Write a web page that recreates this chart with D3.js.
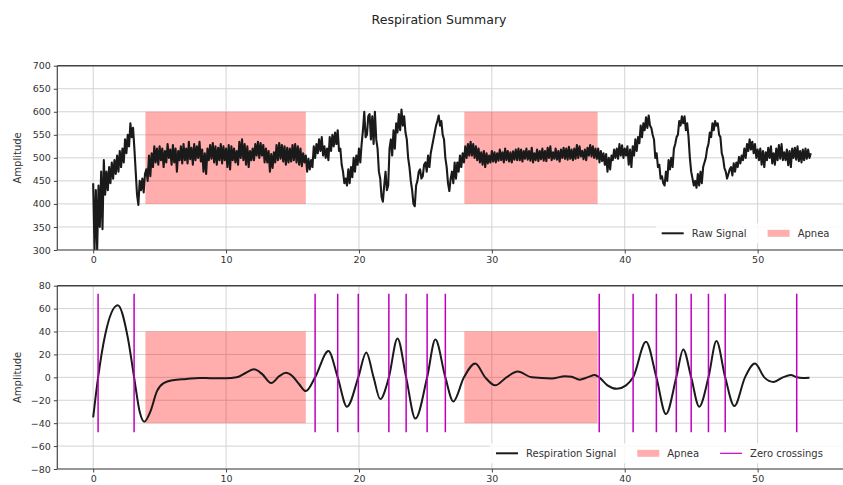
<!DOCTYPE html>
<html>
<head>
<meta charset="utf-8">
<script src="https://cdn.jsdelivr.net/npm/d3@7"></script>
<style>
    body { margin: 0; background: #fff; }
    text { font-family: 'DejaVu Sans', sans-serif; fill: #333; }
</style>
</head>
<body>
<svg id="chart"></svg>
<script>
// raw signal, sampled every 0.1 s from t = 0 (one row per second)
const rawStart = 0;
const rawStep = 0.1;
const rawValues = [
    445, 300, 430, 300, 440, 350, 470, 345, 495, 420,
    470, 430, 480, 445, 490, 455, 495, 465, 505, 470,
    515, 480, 520, 490, 540, 510, 550, 525, 575, 545,
    565, 520, 470, 420, 398, 450, 430, 455, 425, 465,
    475, 450, 505, 460, 510, 480, 525, 490, 520, 485,
    525, 495, 520, 480, 515, 490, 530, 500, 518, 485,
    528, 490, 520, 470, 515, 495, 525, 488, 530, 495,
    520, 488, 535, 497, 522, 485, 530, 495, 525, 500,
    535, 492, 518, 470, 510, 465, 520, 495, 528, 498,
    532, 490, 525, 485, 522, 495, 530, 488, 525, 495,
    520, 480, 528, 475, 525, 495, 520, 490, 515, 485,
    535, 500, 540, 495, 530, 485, 525, 480, 515, 495,
    520, 495, 530, 505, 535, 500, 532, 505, 528, 490,
    520, 490, 515, 470, 508, 478, 512, 490, 528, 495,
    532, 498, 528, 492, 525, 485, 522, 490, 520, 492,
    528, 495, 530, 490, 525, 485, 520, 482, 510, 490,
    505, 470, 498, 475, 495, 480, 525, 500, 530, 510,
    540, 515, 545, 505, 525, 500, 520, 495, 545, 515,
    550, 525, 555, 530, 560, 515, 520, 485, 470, 445,
    455, 440, 475, 445, 480, 458, 500, 470, 505, 485,
    520, 490, 530, 560, 600, 545, 550, 590, 595, 540,
    590, 530, 600, 540, 520, 470, 455, 415, 405, 440,
    470, 430, 440, 520, 540, 505, 560, 520, 575, 555,
    595, 560, 605, 570, 590, 555, 540, 500, 480, 450,
    430, 400, 395, 440, 450, 470, 475, 455, 460, 485,
    490, 470, 505, 480, 510, 525, 540, 555, 570, 580,
    592, 570, 580, 550, 540, 500, 480, 445, 428, 455,
    470, 445, 490, 455, 490, 470, 505, 480, 510, 490,
    525, 500, 530, 505, 535, 505, 530, 500, 525, 495,
    520, 490, 512, 485, 515, 480, 510, 488, 505, 490,
    515, 492, 512, 490, 510, 494, 518, 495, 512, 490,
    520, 495, 515, 492, 512, 490, 514, 496, 518, 495,
    520, 495, 518, 492, 515, 498, 520, 496, 515, 494,
    522, 490, 510, 495, 518, 493, 515, 497, 520, 494,
    515, 493, 522, 500, 525, 495, 512, 498, 520, 496,
    515, 492, 518, 500, 522, 498, 520, 496, 524, 498,
    518, 495, 520, 498, 528, 500, 525, 503, 515, 497,
    518, 495, 522, 505, 528, 503, 525, 500, 520, 498,
    520, 490, 515, 493, 510, 485, 508, 470, 500, 475,
    505, 495, 518, 500, 520, 498, 530, 505, 527, 500,
    520, 505, 525, 485, 518, 480, 525, 505, 540, 515,
    545, 532, 570, 545, 575, 560, 588, 565, 592, 570,
    565, 550, 540, 500, 510, 480, 485, 455, 460, 445,
    440, 470, 450, 495, 475, 500, 480, 520, 530, 545,
    550, 580, 570, 590, 575, 590, 560, 575, 545, 500,
    470, 455, 440, 450, 435, 465, 440, 470, 445, 480,
    490, 500, 520, 530, 555, 545, 575, 560, 580, 570,
    575, 550, 545, 510, 500, 478, 470, 455, 465, 475,
    480, 462, 488, 470, 490, 480, 502, 488, 505, 495,
    520, 500, 530, 515, 540, 518, 535, 510, 530, 500,
    518, 495, 520, 485, 515, 480, 512, 495, 522, 500,
    525, 488, 510, 485, 520, 495, 528, 498, 530, 495,
    512, 495, 518, 484, 515, 480, 520, 500, 522, 496,
    525, 493, 515, 490, 518, 495, 520, 498, 518, 500,
    510
];

// filtered respiration signal (key points: peaks, troughs, crossings)
const respTimes = [
    0, 0.37, 0.9, 1.85, 2.6, 3.08, 3.5, 3.85, 4.3, 4.8, 5.3, 6, 7, 8, 9, 10,
    10.8, 11.5, 12.1, 12.7, 13.4, 14.0, 14.5, 15.0, 15.5, 16.0, 16.7, 17.7,
    18.4, 19.1, 19.95, 20.55, 21.1, 21.6, 22.25, 22.9, 23.55, 24.25, 25.13,
    25.75, 26.5, 27.1, 27.9, 28.75, 29.5, 30.25, 31.1, 31.95, 33, 34.5, 35.5,
    36.0, 36.6, 37.2, 37.75, 38.08, 38.7, 39.4, 40.1, 40.63, 41.6, 42.38,
    43.1, 43.88, 44.4, 45.0, 45.6, 46.3, 46.9, 47.56, 48.25, 49.05, 49.8,
    50.5, 51.2, 51.9, 52.5, 52.94, 53.4, 53.9
];
const respValues = [
    -35, 0, 37, 63, 35, 0, -30, -38.7, -30, -12, -5, -2.5, -1.5, -0.5, -0.8, -0.8,
    0, 4, 7, 3, -5, 1, 4, 1, -6, -12, 0, 23,
    0, -25.6, 0, 21.6, 0, -19, 0, 34, 0, -36, 0,
    33, 0, -21, 0, 12, 0, -7, 0, 5, 0, -1, 1,
    0.5, -2, 0, 2, 0, -7, -10, -7, 0, 31, 0,
    -32, 0, 24.4, 0, -25.6, 0, 31.7, 0, -25, 0, 12,
    0, -4, 0, 2, 0, -0.5, -0.3
];

const apneaStart = [3.93, 27.93];
const apneaEnd = [16.0, 37.96];

const zeroCrossings = [
    0.37, 3.08, 16.7, 18.4, 19.95, 22.25, 23.55, 25.13, 26.5,
    38.08, 40.63, 42.38, 43.88, 45.0, 46.3, 47.56, 52.94
];

const xTicks = [0, 10, 20, 30, 40, 50];
const rawTicks = [300, 350, 400, 450, 500, 550, 600, 650, 700];
const respTicks = [-80, -60, -40, -20, 0, 20, 40, 60, 80];

const width = 843;
const height = 485;
const apneaColor = '#ff0000';
const apneaOpacity = 0.32;

const svg = d3.select('#chart')
    .attr('width', width)
    .attr('height', height)
    .style('background-color', 'white');

const x = d3.scaleLinear().domain([-2.7, 56.8]).range([57.3, 848]);

svg.append('text')
    .attr('x', 439)
    .attr('y', 24)
    .attr('text-anchor', 'middle')
    .style('font-size', '12.5px')
    .style('fill', '#222')
    .text('Respiration Summary');

function drawPanel(id, top, bottom, yDomain, yTicks, band) {
    const y = d3.scaleLinear().domain(yDomain).range([bottom, top]);
    const g = svg.append('g');

    svg.append('clipPath')
        .attr('id', id)
        .append('rect')
        .attr('x', x.range()[0])
        .attr('y', top)
        .attr('width', x.range()[1] - x.range()[0])
        .attr('height', bottom - top);

    // grid
    g.append('g')
        .selectAll('line')
        .data(yTicks)
        .join('line')
        .attr('x1', x.range()[0])
        .attr('x2', x.range()[1])
        .attr('y1', d => y(d))
        .attr('y2', d => y(d))
        .attr('stroke', '#d3d3d3');
    g.append('g')
        .selectAll('line')
        .data(xTicks)
        .join('line')
        .attr('x1', d => x(d))
        .attr('x2', d => x(d))
        .attr('y1', top)
        .attr('y2', bottom)
        .attr('stroke', '#d3d3d3');

    const plot = g.append('g').attr('clip-path', `url(#${id})`);

    // apnea spans
    plot.selectAll('rect.apnea')
        .data(d3.range(apneaStart.length))
        .join('rect')
        .attr('class', 'apnea')
        .attr('x', i => x(apneaStart[i]))
        .attr('width', i => x(apneaEnd[i]) - x(apneaStart[i]))
        .attr('y', y(band[1]))
        .attr('height', y(band[0]) - y(band[1]))
        .attr('fill', apneaColor)
        .attr('fill-opacity', apneaOpacity);

    return { g, plot, y, top, bottom, yTicks };
}

function drawAxes(p) {
    const { g, y, top, bottom, yTicks } = p;
    const xAxis = g.append('g')
        .attr('transform', `translate(0,${bottom})`)
        .call(d3.axisBottom(x).tickValues(xTicks).tickSize(3.5).tickPadding(3));
    const yAxis = g.append('g')
        .attr('transform', `translate(${x.range()[0]},0)`)
        .call(d3.axisLeft(y).tickValues(yTicks).tickSize(3.5).tickPadding(3));
    [xAxis, yAxis].forEach(a => {
        a.select('.domain').remove();
        a.selectAll('.tick line').attr('stroke', '#444');
        a.selectAll('.tick text')
            .style('font-size', '9.5px')
            .style('font-family', "'DejaVu Sans', sans-serif")
            .attr('fill', '#333');
    });
    // spines
    g.append('line')
        .attr('x1', x.range()[0]).attr('x2', x.range()[1])
        .attr('y1', top).attr('y2', top)
        .attr('stroke', '#444').attr('stroke-width', 1.5);
    g.append('line')
        .attr('x1', x.range()[0]).attr('x2', x.range()[1])
        .attr('y1', bottom).attr('y2', bottom)
        .attr('stroke', '#444').attr('stroke-width', 1.2);
    g.append('line')
        .attr('x1', x.range()[0]).attr('x2', x.range()[0])
        .attr('y1', top).attr('y2', bottom)
        .attr('stroke', '#444').attr('stroke-width', 1.2);
    g.append('text')
        .attr('transform', `translate(21,${(top + bottom) / 2}) rotate(-90)`)
        .attr('text-anchor', 'middle')
        .style('font-size', '10px')
        .text('Amplitude');
}

function drawLegend(g, startX, cy, items) {
    g.append('rect')
        .attr('x', startX - 6)
        .attr('y', cy - 10)
        .attr('width', width - startX + 10)
        .attr('height', 20)
        .attr('fill', 'white')
        .attr('fill-opacity', 0.85);
    let cx = startX;
    items.forEach(it => {
        if (it.type === 'line') {
            g.append('line')
                .attr('x1', cx).attr('x2', cx + 22)
                .attr('y1', cy).attr('y2', cy)
                .attr('stroke', it.color)
                .attr('stroke-width', it.width);
        } else {
            g.append('rect')
                .attr('x', cx).attr('y', cy - 3.5)
                .attr('width', 22).attr('height', 7)
                .attr('fill', it.color)
                .attr('fill-opacity', apneaOpacity);
        }
        const t = g.append('text')
            .attr('x', cx + 30)
            .attr('y', cy)
            .attr('dy', '0.35em')
            .style('font-size', '10px')
            .text(it.label);
        cx += 30 + t.node().getComputedTextLength() + 21;
    });
}

// ---- top panel: raw signal
const topP = drawPanel('clip-raw', 65.7, 250, [300, 700], rawTicks, [400, 600]);
topP.plot.append('path')
    .datum(rawValues)
    .attr('fill', 'none')
    .attr('stroke', '#1a1a1a')
    .attr('stroke-width', 2.1)
    .attr('stroke-linejoin', 'round')
    .attr('d', d3.line()
        .x((d, i) => x(rawStart + i * rawStep))
        .y(d => topP.y(d)));
drawAxes(topP);
drawLegend(topP.g, 661.7, 233.3, [
    { type: 'line', label: 'Raw Signal', color: '#1a1a1a', width: 2 },
    { type: 'rect', label: 'Apnea', color: apneaColor },
]);

// ---- bottom panel: respiration signal
const botP = drawPanel('clip-resp', 285.7, 469, [-80, 80], respTicks, [-40, 40]);
botP.plot.append('path')
    .datum(d3.range(respTimes.length))
    .attr('fill', 'none')
    .attr('stroke', '#1a1a1a')
    .attr('stroke-width', 2)
    .attr('d', d3.line()
        .curve(d3.curveMonotoneX)
        .x(i => x(respTimes[i]))
        .y(i => botP.y(respValues[i])));
botP.plot.selectAll('line.zc')
    .data(zeroCrossings)
    .join('line')
    .attr('class', 'zc')
    .attr('x1', d => x(d))
    .attr('x2', d => x(d))
    .attr('y1', botP.y(73))
    .attr('y2', botP.y(-48))
    .attr('stroke', '#bf00bf')
    .attr('stroke-width', 1.5);
drawAxes(botP);
drawLegend(botP.g, 496, 453.3, [
    { type: 'line', label: 'Respiration Signal', color: '#1a1a1a', width: 2 },
    { type: 'rect', label: 'Apnea', color: apneaColor },
    { type: 'line', label: 'Zero crossings', color: '#bf00bf', width: 1.2 },
]);
</script>
</body>
</html>
